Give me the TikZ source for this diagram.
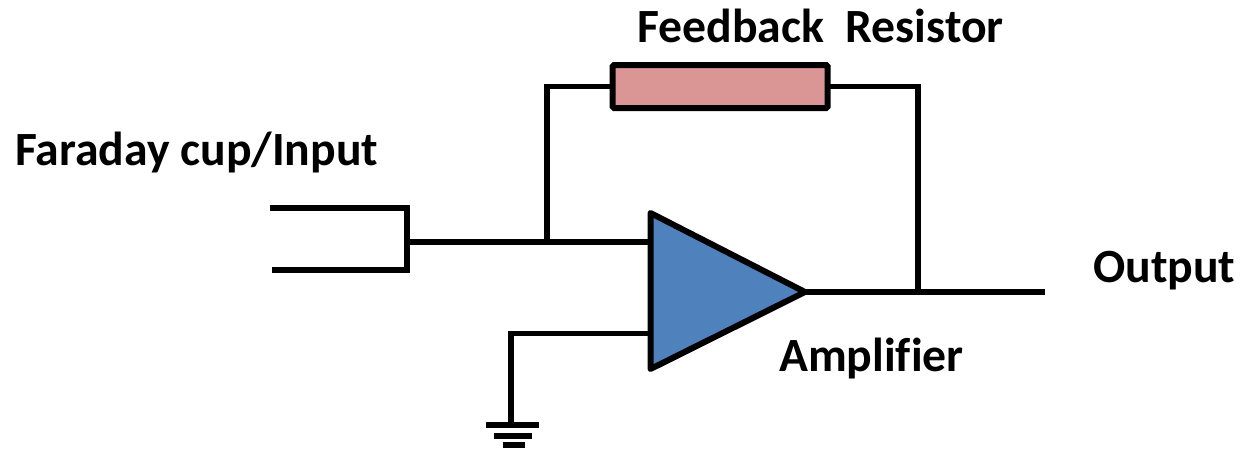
\documentclass[tikz,border=0pt]{standalone}
\usepackage{fontspec}
\setmainfont{Carlito}
\definecolor{ampblue}{HTML}{4F81BD}
\definecolor{respink}{HTML}{D99694}
\tikzset{
  wire/.style={line width=5.6pt,line cap=butt,line join=miter},
  label/.style={font=\bfseries\fontsize{47.7}{56}\selectfont,inner sep=0pt,anchor=base west,text=black},
  bar/.style={line width=6pt,line cap=butt},
}
\begin{document}
\begin{tikzpicture}[x=1pt,y=-1pt]
\useasboundingbox (0,0) rectangle (1242,450);
% junctions and free ends
\coordinate (cupT) at (269.5,208);
\coordinate (cupB) at (271.5,270);
\coordinate (cupTR) at (407,208);
\coordinate (cupBR) at (407,270);
\coordinate (cupM) at (407,242);
\coordinate (jIn) at (547,242);
\coordinate (fbL) at (547,86.5);
\coordinate (fbR) at (918,86.5);
\coordinate (jOut) at (918,292);
\coordinate (out) at (1045,292);
\coordinate (ampT) at (650.5,213);
\coordinate (ampB) at (650.5,369);
\coordinate (ampO) at (805,292);
\coordinate (ampI) at (650.5,242);
\coordinate (ampG) at (650.5,333.5);
\coordinate (gC) at (511,333.5);
\coordinate (gnd) at (511,425);
% wires
\draw[wire] (cupT) -- (cupTR) -- (cupBR) -- (cupB);
\draw[wire] (cupM) -- (ampI);
\draw[wire] (jIn) -- (fbL) -- (fbR) -- (jOut);
\draw[wire] (ampO) -- (out);
\draw[wire] (ampG) -- (gC) -- (gnd);
% resistor
\node[draw=black,fill=respink,line width=6pt,rounded corners=1.5pt,minimum width=215pt,minimum height=43pt,inner sep=0pt] (res) at (720,86.5) {};
% amplifier
\draw[line width=6pt,fill=ampblue,line join=round] (ampT) -- (ampO) -- (ampB) -- cycle;
% ground
\draw[bar] (486,425) -- (539,425);
\draw[bar] (494,435.5) -- (532,435.5);
\draw[bar] (502.5,445) -- (525,445);
% labels
\node[label] (lfb) at (637,42.5) {Feedback\ \ Resistor};
\node[label] (lin) at (15,165.5) {Faraday cup/Input};
\node[label] (lout) at (1093,282.5) {Output};
\node[label] (lamp) at (779,371.5) {Amplif\kern0pt ier};
\end{tikzpicture}
\end{document}
